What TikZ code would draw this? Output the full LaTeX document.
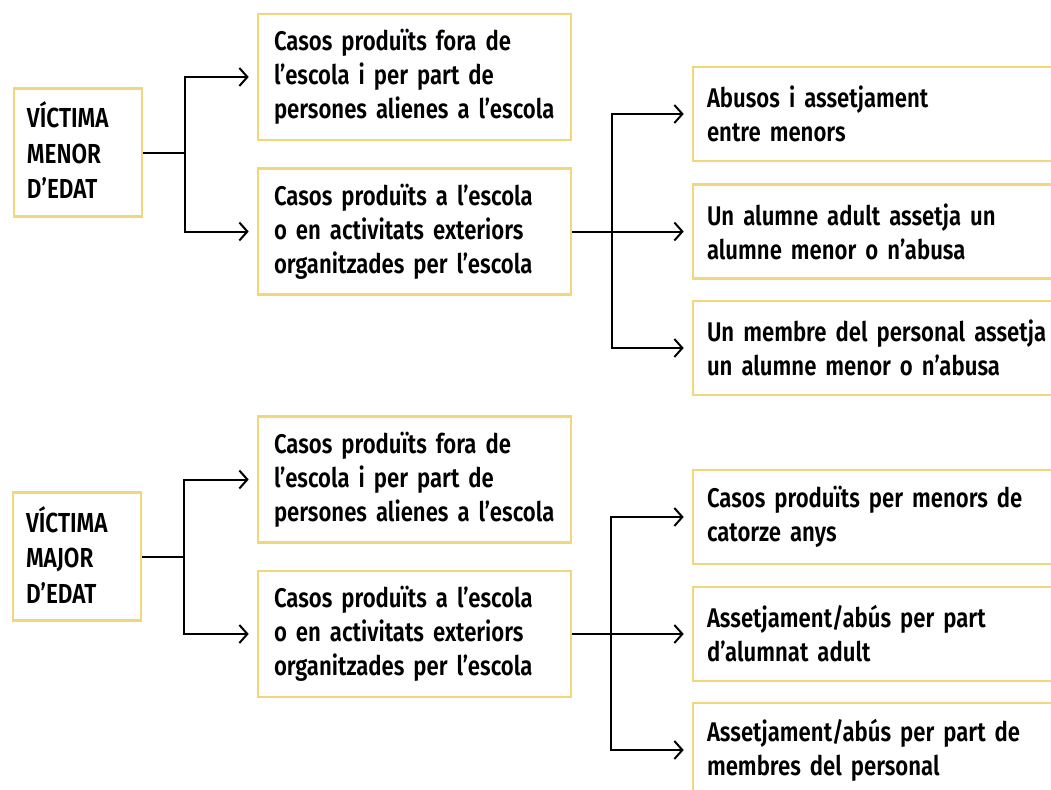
\documentclass[tikz,border=0pt]{standalone}
\usepackage{fontspec}
\setmainfont[FakeStretch=0.82]{Fira Sans SemiBold}
\usetikzlibrary{arrows.meta}
\definecolor{boxgold}{RGB}{242,214,122}
\tikzset{
  box/.style={draw=boxgold, line width=2.6pt, rectangle, align=left, anchor=center,
    font=\fontsize{27}{34}\selectfont, text=black, inner ysep=0pt},
  lbox/.style={box, minimum width=128pt, minimum height=128pt, text width=102pt, inner xsep=13pt,
    font=\fontsize{27.5}{35.5}\selectfont},
  mbox/.style={box, minimum width=313pt, minimum height=126pt, text width=281pt, inner xsep=16pt},
  rbox/.style={box, minimum width=407pt, minimum height=94pt, text width=379pt, inner xsep=14pt},
  conn/.style={line width=2pt, black},
  arr/.style={conn, -{Straight Barb[length=8pt, width=18pt, line width=2pt]}}
}
\begin{document}
\begin{tikzpicture}[x=1pt, y=-1pt]
\useasboundingbox (0,0) rectangle (1051,789);
% top group
\node[lbox] (L1) at (78,152.5) {VÍCTIMA\\MENOR\\D’EDAT\vspace{4pt}};
\node[mbox] (A1) at (414.5,77) {Casos produïts fora de\\l’escola i per part de\\persones alienes a l’escola};
\node[mbox] (A2) at (414.5,231.5) {Casos produïts a l’escola\\o en activitats exteriors\\organitzades per l’escola};
\node[rbox] (B1) at (896.5,114) {Abusos i assetjament\\entre menors};
\node[rbox] (B2) at (896.5,231.5) {Un alumne adult assetja un\\alumne menor o n’abusa};
\node[rbox] (B3) at (896.5,348) {Un membre del personal assetja\\un alumne menor o n’abusa};
% bottom group
\node[lbox] (L2) at (77,556.5) {VÍCTIMA\\MAJOR\\D’EDAT\vspace{4pt}};
\node[mbox] (C1) at (414.5,479.5) {Casos produïts fora de\\l’escola i per part de\\persones alienes a l’escola};
\node[mbox] (C2) at (414.5,634) {Casos produïts a l’escola\\o en activitats exteriors\\organitzades per l’escola};
\node[rbox] (D1) at (896.5,517) {Casos produïts per menors de\\catorze anys};
\node[rbox] (D2) at (896.5,634) {Assetjament/abús per part\\d’alumnat adult};
\node[rbox] (D3) at (896.5,750) {Assetjament/abús per part de\\membres del personal};
% connectors top
\coordinate (j1) at ([xshift=42pt]L1.east);
\draw[conn] (L1.east) -- (j1);
\draw[arr] (j1) |- ([xshift=-8pt]A1.west);
\draw[arr] (j1) |- ([xshift=-8pt]A2.west);
\coordinate (j2) at ([xshift=40pt]A2.east);
\draw[arr] (A2.east) -- ([xshift=-8pt]B2.west);
\draw[arr] (j2) |- ([xshift=-8pt]B1.west);
\draw[arr] (j2) |- ([xshift=-8pt]B3.west);
% connectors bottom
\coordinate (j3) at ([xshift=42pt]L2.east);
\draw[conn] (L2.east) -- (j3);
\draw[arr] (j3) |- ([xshift=-8pt]C1.west);
\draw[arr] (j3) |- ([xshift=-8pt]C2.west);
\coordinate (j4) at ([xshift=39pt]C2.east);
\draw[arr] (C2.east) -- ([xshift=-8pt]D2.west);
\draw[arr] (j4) |- ([xshift=-8pt]D1.west);
\draw[arr] (j4) |- ([xshift=-8pt]D3.west);
\end{tikzpicture}
\end{document}
